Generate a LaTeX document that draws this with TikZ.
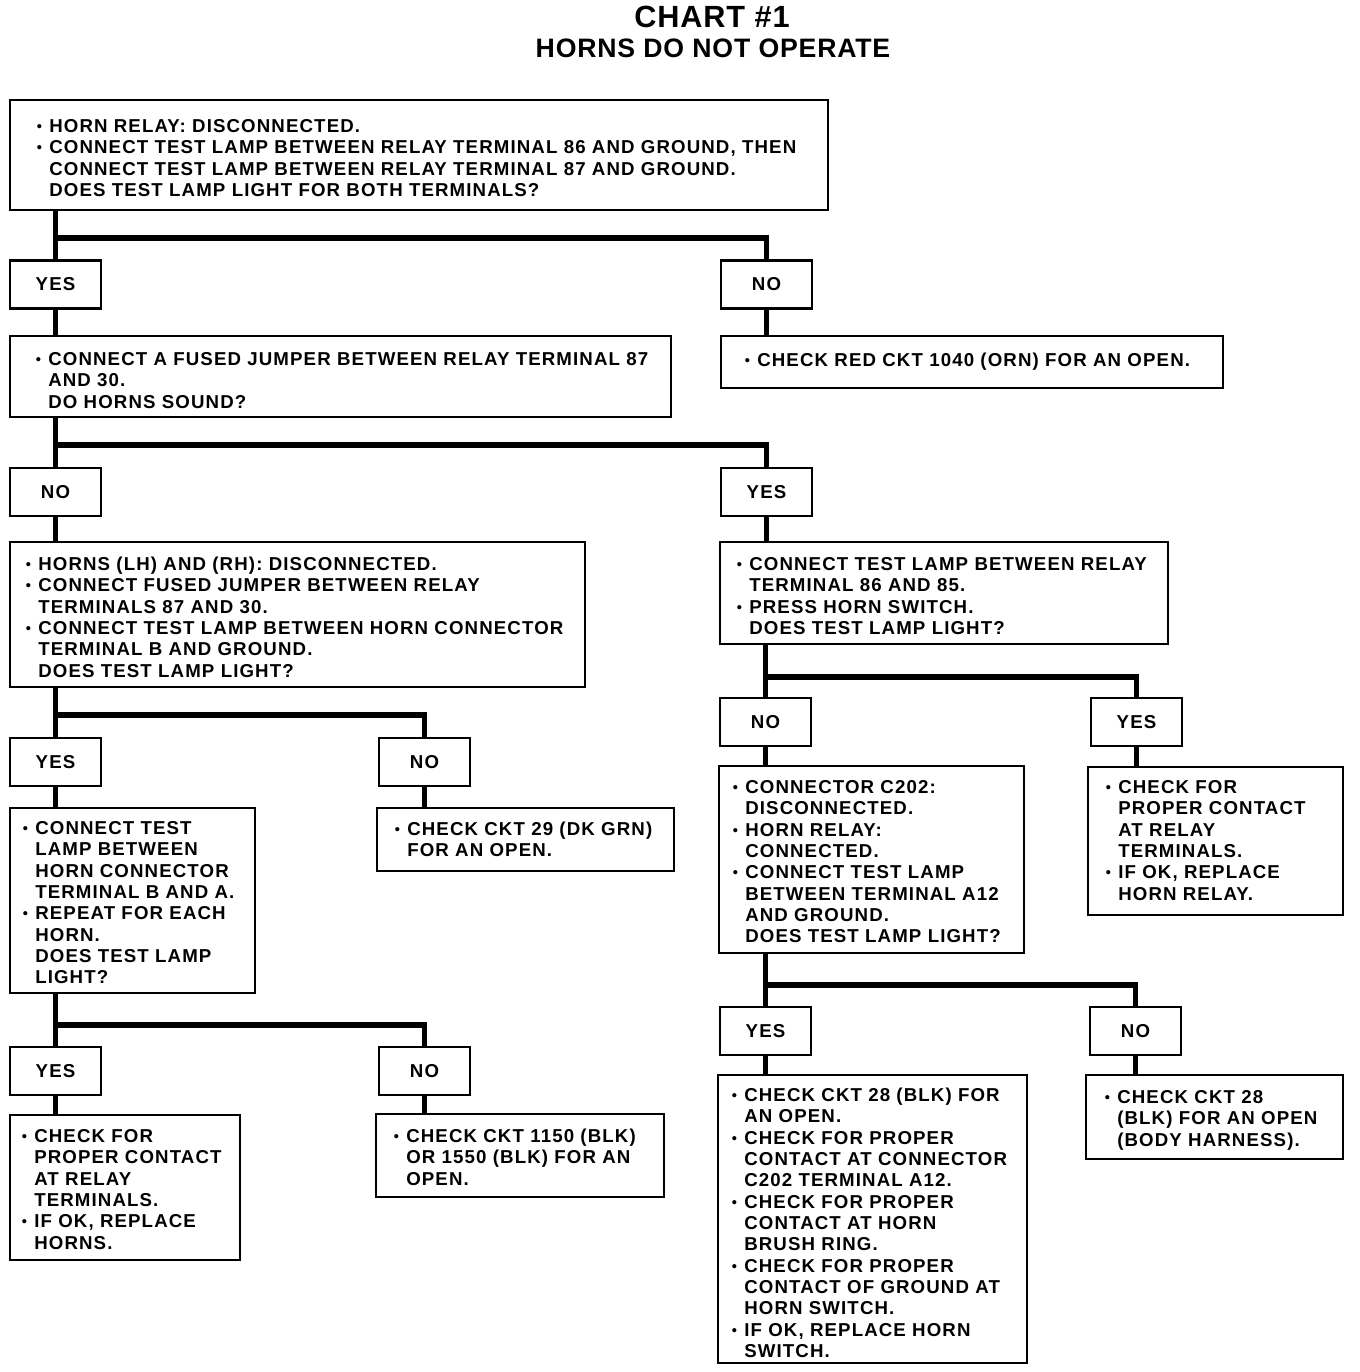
\documentclass[tikz,border=0pt]{standalone}
\usepackage{fontspec}
\newfontfamily\chartfont[LetterSpace=6]{Liberation Sans}
\newfontfamily\titlefont[LetterSpace=3]{Liberation Sans}
\usetikzlibrary{fit}
\newcommand\bl{\llap{\raisebox{0.8pt}{\fontsize{11}{11}\selectfont •}\hspace{5.5pt}}}
\newcommand\lines[1]{\begin{tabular}[t]{@{}l@{}}#1\end{tabular}}
\newcommand\branch[4]{%
  \coordinate (j#2) at (0,#4);
  \draw[conn] (#1.south -| #2) -- (#2.north);
  \draw[conn] (#2 |- j#2) -| (#3.north);}
\newcommand\link[2]{\draw[conn] (#1.south) -- (#2.north -| #1);}
\tikzset{
  bigbox/.style={draw, line width=1.6pt, inner sep=0pt, fit={#1}},
  smallbox/.style={draw, line width=1.6pt, minimum width=68.25pt, minimum height=36pt, inner sep=0pt,
    font=\chartfont\bfseries\fontsize{14}{16}\selectfont},
  txt/.style={anchor=base west, inner sep=0pt, font=\chartfont\bfseries\fontsize{14}{16}\selectfont},
  conn/.style={line width=3.9pt},
}
\begin{document}
\begin{tikzpicture}[x=0.75pt,y=-0.75pt]
\useasboundingbox (0,0) rectangle (1360,1372);
% title
\node[anchor=base, inner sep=0pt, font=\titlefont\bfseries\fontsize{23}{26}\selectfont] (t1) at (712,27) {CHART \#1};
\node[anchor=base, inner sep=0pt, font=\titlefont\bfseries\fontsize{20}{24}\selectfont] (t2) at (713,57.5) {HORNS DO NOT OPERATE};

% big boxes
\node[bigbox={(10,100)(828,210)}] (A) {};
\node[bigbox={(10,336)(671,417)}] (B) {};
\node[bigbox={(721,336)(1223,388)}] (R) {};
\node[bigbox={(10,542)(585,687)}] (C) {};
\node[bigbox={(720,542)(1168,644)}] (D) {};
\node[bigbox={(10,808)(255,993)}] (E) {};
\node[bigbox={(377,808)(674,871)}] (F) {};
\node[bigbox={(10,1115)(240,1260)}] (G) {};
\node[bigbox={(376,1114)(664,1197)}] (H) {};
\node[bigbox={(719,766)(1024,953)}] (I) {};
\node[bigbox={(1088,767)(1343,915)}] (J) {};
\node[bigbox={(718,1075)(1027,1363)}] (K) {};
\node[bigbox={(1086,1075)(1343,1159)}] (L) {};

% texts
\node[txt] (At) at (49,132.5) {\lines{\bl HORN RELAY: DISCONNECTED.\\
\bl CONNECT TEST LAMP BETWEEN RELAY TERMINAL 86 AND GROUND, THEN\\
CONNECT TEST LAMP BETWEEN RELAY TERMINAL 87 AND GROUND.\\
DOES TEST LAMP LIGHT FOR BOTH TERMINALS?}};
\node[txt] (Bt) at (48,365.5) {\lines{\bl CONNECT A FUSED JUMPER BETWEEN RELAY TERMINAL 87\\
AND 30.\\
DO HORNS SOUND?}};
\node[txt] (Rt) at (757,366.5) {\lines{\bl CHECK RED CKT 1040 (ORN) FOR AN OPEN.}};
\node[txt] (Ct) at (38,570.5) {\lines{\bl HORNS (LH) AND (RH): DISCONNECTED.\\
\bl CONNECT FUSED JUMPER BETWEEN RELAY\\
TERMINALS 87 AND 30.\\
\bl CONNECT TEST LAMP BETWEEN HORN CONNECTOR\\
TERMINAL B AND GROUND.\\
DOES TEST LAMP LIGHT?}};
\node[txt] (Dt) at (749,570.5) {\lines{\bl CONNECT TEST LAMP BETWEEN RELAY\\
TERMINAL 86 AND 85.\\
\bl PRESS HORN SWITCH.\\
DOES TEST LAMP LIGHT?}};
\node[txt] (Et) at (35,834.5) {\lines{\bl CONNECT TEST\\
LAMP BETWEEN\\
HORN CONNECTOR\\
TERMINAL B AND A.\\
\bl REPEAT FOR EACH\\
HORN.\\
DOES TEST LAMP\\
LIGHT?}};
\node[txt] (Ft) at (407,835.5) {\lines{\bl CHECK CKT 29 (DK GRN)\\
FOR AN OPEN.}};
\node[txt] (Gt) at (34,1142.5) {\lines{\bl CHECK FOR\\
PROPER CONTACT\\
AT RELAY\\
TERMINALS.\\
\bl IF OK, REPLACE\\
HORNS.}};
\node[txt] (Ht) at (406,1142.5) {\lines{\bl CHECK CKT 1150 (BLK)\\
OR 1550 (BLK) FOR AN\\
OPEN.}};
\node[txt] (It) at (745,793.5) {\lines{\bl CONNECTOR C202:\\
DISCONNECTED.\\
\bl HORN RELAY:\\
CONNECTED.\\
\bl CONNECT TEST LAMP\\
BETWEEN TERMINAL A12\\
AND GROUND.\\
DOES TEST LAMP LIGHT?}};
\node[txt] (Jt) at (1118,793.5) {\lines{\bl CHECK FOR\\
PROPER CONTACT\\
AT RELAY\\
TERMINALS.\\
\bl IF OK, REPLACE\\
HORN RELAY.}};
\node[txt] (Kt) at (744,1101.5) {\lines{\bl CHECK CKT 28 (BLK) FOR\\
AN OPEN.\\
\bl CHECK FOR PROPER\\
CONTACT AT CONNECTOR\\
C202 TERMINAL A12.\\
\bl CHECK FOR PROPER\\
CONTACT AT HORN\\
BRUSH RING.\\
\bl CHECK FOR PROPER\\
CONTACT OF GROUND AT\\
HORN SWITCH.\\
\bl IF OK, REPLACE HORN\\
SWITCH.}};
\node[txt] (Lt) at (1117,1103.5) {\lines{\bl CHECK CKT 28\\
(BLK) FOR AN OPEN\\
(BODY HARNESS).}};

% small boxes
\node[smallbox] (yes1) at (55.5,284.5) {YES};
\node[smallbox] (no1) at (766.5,284.5) {NO};
\node[smallbox] (no2) at (55.5,492) {NO};
\node[smallbox] (yes2) at (766.5,492) {YES};
\node[smallbox] (yes3) at (55.5,762) {YES};
\node[smallbox] (no3) at (424.5,762) {NO};
\node[smallbox] (yes4) at (55.5,1071) {YES};
\node[smallbox] (no4) at (424.5,1071) {NO};
\node[smallbox] (no5) at (765.5,722) {NO};
\node[smallbox] (yes5) at (1136.5,722) {YES};
\node[smallbox] (yes6) at (765.5,1031) {YES};
\node[smallbox] (no6) at (1135.5,1031) {NO};

% connectors
\branch{A}{yes1}{no1}{238}
\link{yes1}{B}
\link{no1}{R}
\branch{B}{no2}{yes2}{445}
\link{no2}{C}
\link{yes2}{D}
\branch{C}{yes3}{no3}{715}
\link{yes3}{E}
\link{no3}{F}
\branch{E}{yes4}{no4}{1025}
\link{yes4}{G}
\link{no4}{H}
\branch{D}{no5}{yes5}{677}
\link{no5}{I}
\link{yes5}{J}
\branch{I}{yes6}{no6}{985}
\link{yes6}{K}
\link{no6}{L}
\end{tikzpicture}
\end{document}
